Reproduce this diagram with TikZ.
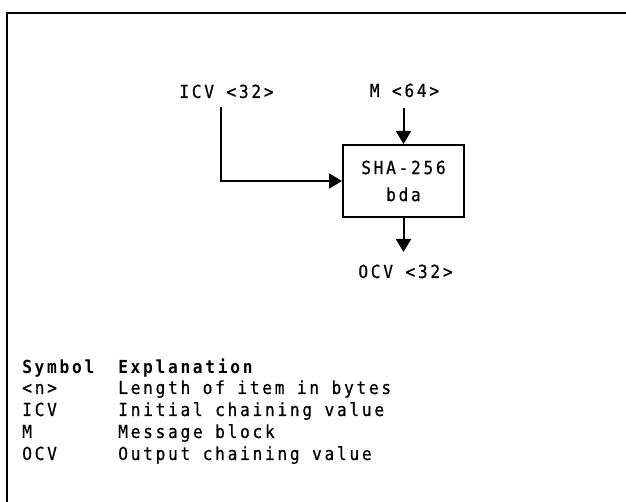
\documentclass[tikz,border=0pt]{standalone}
\usepackage{fontspec}
\newfontfamily\diagfont[FakeStretch=0.9, LetterSpace=15, UprightFeatures={FakeBold=0.6}]{DejaVu Sans Mono}
\usetikzlibrary{arrows.meta, positioning}

\begin{document}
\begin{tikzpicture}[
  x=0.75pt, y=-0.75pt,
  font=\diagfont\fontsize{13.5}{20.25}\selectfont,
  lbl/.style={anchor=base, inner sep=0pt},
  cell/.style={anchor=base west, inner sep=0pt},
  hashbox/.style={draw, line width=1.5pt, minimum width=90.75pt, minimum height=54pt, align=center, inner sep=0pt},
  flow/.style={line width=1.5pt, -{Triangle[length=9.75pt, width=11.25pt]}}
]
  \useasboundingbox (0,0) rectangle (626,502);
  \draw[line width=2pt] (7,502) -- (7,13) -- (626,13);

  \node[lbl] (icv) at (226.5,98) {ICV <32>};
  \node[lbl] (msg) at (404.5,97) {M <64>};
  \node[hashbox] (sha) at (403.5,181) {SHA-256\\bda};
  \node[lbl] (ocv) at (405.5,278) {OCV <32>};

  \draw[flow] ([shift={(-5.5,9)}]icv.base) |- (sha.west);
  \draw[flow] ([shift={(-1,11)}]msg.base) -- (sha.north);
  \draw[flow] (sha.south) -- ([shift={(-2,-26)}]ocv.base);

  \node[cell, font=\diagfont\bfseries\fontsize{13.5}{14}\selectfont] (symhead) at (22,374) {Symbol};
  \node[cell, font=\diagfont\bfseries\fontsize{13.5}{14}\selectfont] (explhead) at (118,374) {Explanation};
  \node[cell] (sym1) at (22,394) {<n>};
  \node[cell] (expl1) at (118,394) {Length of item in bytes};
  \node[cell] (sym2) at (22,416) {ICV};
  \node[cell] (expl2) at (118,416) {Initial chaining value};
  \node[cell] (sym3) at (22,438) {M};
  \node[cell] (expl3) at (118,438) {Message block};
  \node[cell] (sym4) at (22,460) {OCV};
  \node[cell] (expl4) at (118,460) {Output chaining value};
\end{tikzpicture}
\end{document}
